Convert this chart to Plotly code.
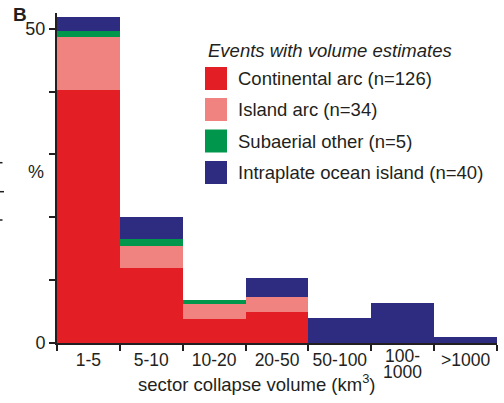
import plotly.graph_objects as go

categories = ["1-5", "5-10", "10-20", "20-50", "50-100", "100-1000", ">1000"]
tick_labels = ["1-5", "5-10", "10-20", "20-50", "50-100", "", ">1000"]
wrapped_label = ["100-", "1000"]
continental_arc = [40.2, 12.0, 3.8, 4.9, 0, 0, 0]
island_arc = [8.5, 3.4, 2.4, 2.4, 0, 0, 0]
subaerial_other = [1.0, 1.1, 0.6, 0, 0, 0, 0]
intraplate_ocean = [2.1, 3.5, 0, 3.0, 4.0, 6.3, 0.9]

series_names = ["Continental arc (n=126)", "Island arc (n=34)",
                "Subaerial other (n=5)", "Intraplate ocean island (n=40)"]
series_values = [continental_arc, island_arc, subaerial_other, intraplate_ocean]
colors = ["#E31E24", "#F0837F", "#00964B", "#2E2C80"]
legend_title = "Events with volume estimates"
x_title = "sector collapse volume (km<sup>3</sup>)"

W, H = 504, 403
ML, MR, MT, MB = 57, 7, 13, 60
PW, PH = W - ML - MR, H - MT - MB

def px(x):
    return (x - ML) / PW

def py(y):
    return (H - MB - y) / PH

FONT = "Liberation Sans, Arial, sans-serif"
INK = "#231F20"

fig = go.Figure()
for name, vals, col in zip(series_names, series_values, colors):
    fig.add_trace(go.Bar(x=categories, y=vals, name=name, marker=dict(color=col, line=dict(width=0)),
                         showlegend=False))

shapes = []
annotations = []

def txt(x, y, text, size, xanchor="center", xref="paper"):
    annotations.append(dict(x=x, y=y, xref=xref, yref="paper", text=text, showarrow=False,
                            xanchor=xanchor, yanchor="middle",
                            font=dict(family=FONT, size=size, color=INK)))

# manual legend
txt(px(206), py(51), "<i>" + legend_title + "</i>", 18.5, "left")
row_centers = [78.5, 109.5, 141, 172.5]
for name, col, yc in zip(series_names, colors, row_centers):
    shapes.append(dict(type="rect", xref="paper", yref="paper", x0=px(205), x1=px(227),
                       y0=py(yc - 11.5), y1=py(yc + 11.5), fillcolor=col, line=dict(width=0)))
    txt(px(236), py(yc), name, 18.5, "left")

# wrapped tick label
txt(categories[5], py(356), wrapped_label[0], 17.5, xref="x")
txt(categories[5], py(371.5), wrapped_label[1], 17.5, xref="x")

# axis title, "%" label and panel letter
txt(px(257), py(383), x_title, 18.5)
txt(px(36), py(172), "%", 18)
txt(px(20), py(14), "<b>B</b>", 19)

# small cropped marks at left edge
for yy, ln in [(162.7, 2.5), (191.7, 4), (220, 2.5)]:
    shapes.append(dict(type="line", xref="paper", yref="paper", x0=px(0), x1=px(ln), y0=py(yy), y1=py(yy),
                       line=dict(color=INK, width=1.5)))

fig.update_layout(
    width=W, height=H,
    margin=dict(l=ML, r=MR, t=MT, b=MB, autoexpand=False),
    barmode="stack", bargap=0,
    plot_bgcolor="white", paper_bgcolor="white",
    font=dict(family=FONT, size=17.5, color=INK),
    shapes=shapes, annotations=annotations,
    xaxis=dict(type="category", range=[-0.5, 6.5], tickson="boundaries", ticks="outside", ticklen=6,
               tickwidth=1.5, tickcolor=INK, showline=True, linecolor=INK, linewidth=2, showgrid=False,
               tickvals=categories, ticktext=tick_labels,
               tickangle=0, automargin=False, tickfont=dict(size=17.5)),
    yaxis=dict(range=[0, 52.5], tickvals=[0, 10, 20, 30, 40, 50], ticktext=["0", "", "", "", "", "50"],
               ticks="outside", ticklen=6, tickwidth=1.5, tickcolor=INK, showline=True, linecolor=INK,
               linewidth=2, showgrid=False, zeroline=False, automargin=False, tickfont=dict(size=18)),
)

fig.write_html("out.html")
